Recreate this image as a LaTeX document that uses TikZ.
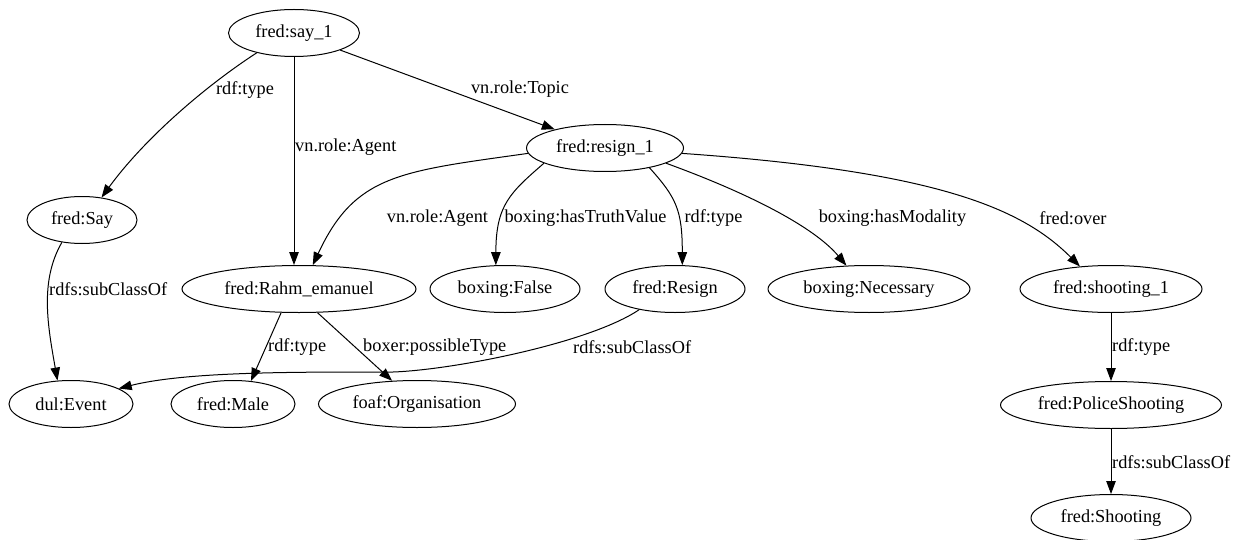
\documentclass[tikz,border=0pt]{standalone}
\usepackage{fontspec}
\setmainfont{Liberation Serif}
\usetikzlibrary{shapes.geometric,arrows.meta}
\begin{document}
\begin{tikzpicture}[x=1pt,y=1pt,
  every node/.style={font=\fontsize{18.3}{22}\selectfont},
  ent/.style={ellipse, draw, line width=1pt, inner sep=0pt, minimum height=47pt},
  arr/.style={line width=1pt, -{Triangle[length=13pt,width=9.5pt]}},
  lbl/.style={inner sep=0pt}]
\path[fill=white, use as bounding box] (0,0) rectangle (1238,-540);
% nodes
\node[ent, minimum width=131pt] (say1) at (294,-33) {fred:say\_1};
\node[ent, minimum width=110pt] (say) at (82,-220) {fred:Say};
\node[ent, minimum width=157pt] (resign1) at (605,-148) {fred:resign\_1};
\node[ent, minimum width=234pt] (rahm) at (299,-289) {fred:Rahm\_emanuel};
\node[ent, minimum width=150pt] (false) at (505,-289) {boxing:False};
\node[ent, minimum width=140pt] (resign) at (675,-289) {fred:Resign};
\node[ent, minimum width=202pt] (necessary) at (869,-289) {boxing:Necessary};
\node[ent, minimum width=182pt] (shooting1) at (1111,-289) {fred:shooting\_1};
\node[ent, minimum width=124pt] (event) at (71,-404) {dul:Event};
\node[ent, minimum width=124pt] (male) at (233,-404) {fred:Male};
\node[ent, minimum width=197pt] (organisation) at (417,-404) {foaf:Organisation};
\node[ent, minimum width=221pt] (police) at (1111,-405) {fred:PoliceShooting};
\node[ent, minimum width=160pt] (shooting) at (1111,-518) {fred:Shooting};
\coordinate (w1) at (393,-372);
% edges
\draw[arr] (say1.208) .. controls +(213:65) and +(54:70) .. (say.49);
\draw[arr] (say1.south) -- (say1.south |- rahm.north);
\draw[arr] (say1) -- (resign1);
\draw[arr] (resign1.184) .. controls +(188:130) and +(65:100) .. (rahm.60);
\draw[arr] (resign1.194) .. controls +(221:45) and +(90:60) .. (false.111);
\draw[arr] (resign1.-24) .. controls +(-48:40) and +(90:55) .. (resign.73);
\draw[arr] (resign1.-14) .. controls +(-20:90) and +(130:50) .. (necessary.134);
\draw[arr] (resign1.-4) .. controls +(-4:260) and +(135:80) .. (shooting1.144);
\draw[arr] (say.-132) .. controls +(-120:45) and +(100:55) .. (event.120);
\draw[arr] (resign.-150) .. controls +(214:60) and +(2:60) .. (w1) .. controls +(180:100) and +(14:70) .. (event.18);
\draw[arr] (rahm.233) -- (male.52);
\draw[arr] (rahm.-52) -- (organisation.137);
\draw[arr] (shooting1) -- (police);
\draw[arr] (police) -- (shooting);
% labels
\node[lbl] (l1) at (245,-90) {rdf:type};
\node[lbl, anchor=west] (l2) at (295,-147) {vn.role:Agent};
\node[lbl] (l3) at (520,-89) {vn.role:Topic};
\node[lbl] (l4) at (437.5,-218) {vn.role:Agent};
\node[lbl] (l5) at (585.5,-218) {boxing:hasTruthValue};
\node[lbl] (l6) at (713.5,-218) {rdf:type};
\node[lbl] (l7) at (892.5,-218) {boxing:hasModality};
\node[lbl] (l8) at (1073,-218) {fred:over};
\node[lbl, anchor=west] (l9) at (49,-289) {rdfs:subClassOf};
\node[lbl, anchor=west] (l10) at (268,-347) {rdf:type};
\node[lbl, anchor=west] (l11) at (363,-347) {boxer:possibleType};
\node[lbl, anchor=west] (l12) at (573,-347) {rdfs:subClassOf};
\node[lbl, anchor=west] (l13) at (1112,-347) {rdf:type};
\node[lbl, anchor=west] (l14) at (1112,-462) {rdfs:subClassOf};
\end{tikzpicture}
\end{document}
